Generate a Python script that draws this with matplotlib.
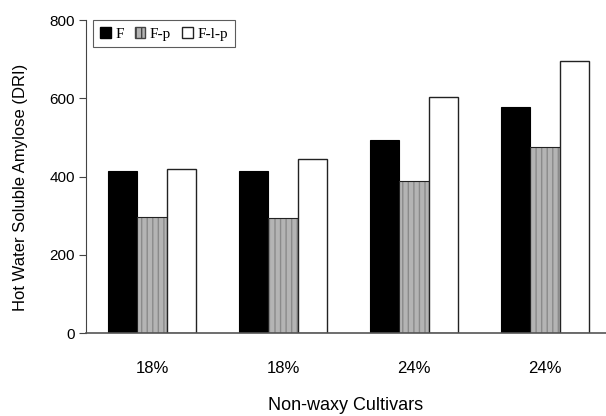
import numpy as np
import matplotlib
matplotlib.use("Agg")
import matplotlib.pyplot as plt
from matplotlib.patches import Patch

# data
categories = ["18%", "18%", "24%", "24%"]
series_names = ["F", "F-p", "F-l-p"]
f_vals = [415, 415, 494, 577]
fp_vals = [297, 295, 389, 476]
flp_vals = [420, 444, 604, 695]

plt.rcParams["font.family"] = ["Liberation Sans", "DejaVu Sans"]

fig = plt.figure(figsize=(6.06, 4.16), dpi=100)
ax = fig.add_axes([0.1419, 0.1995, 0.858, 0.7524])

x = np.arange(len(categories))
w = 0.225

ax.bar(x - w, f_vals, w, color="black", edgecolor="black", linewidth=0.8)
# hatched grey bars: fill + hatch first, then outline on top
ax.bar(x, fp_vals, w, color="#b4b4b4", edgecolor="#8a8a8a", hatch="|||", linewidth=0)
ax.bar(x, fp_vals, w, fill=False, edgecolor="#222222", linewidth=0.8)
ax.bar(x + w, flp_vals, w, color="white", edgecolor="#222222", linewidth=1.0)

ax.set_xlim(-0.504, 3.466)
ax.set_ylim(0, 800)
ax.set_yticks([0, 200, 400, 600, 800])
ax.set_xticks(x)
ax.set_xticklabels(categories)
ax.tick_params(axis="x", length=0, pad=20, labelsize=12)
ax.tick_params(axis="y", length=5, width=0.8, color="#444444", labelsize=11, pad=3)

for s in ["top", "right"]:
    ax.spines[s].set_visible(False)
ax.spines["left"].set_color("#444444")
ax.spines["bottom"].set_color("#555555")
ax.spines["bottom"].set_linewidth(1.2)

ax.set_ylabel("Hot Water Soluble Amylose (DRI)", fontsize=12)
ax.yaxis.set_label_coords(-0.111, 0.465)
ax.set_xlabel("Non-waxy Cultivars", fontsize=13, labelpad=15)

# legend with small square handles
handles = [
    Patch(facecolor="black", edgecolor="black"),
    Patch(facecolor="#b4b4b4", edgecolor="#444444", hatch="|||"),
    Patch(facecolor="white", edgecolor="#222222"),
]
leg = ax.legend(handles, series_names, loc="upper left", ncol=3,
                bbox_to_anchor=(0.014, 1.0), frameon=True, fancybox=False,
                prop={"family": "Liberation Serif", "size": 11},
                handlelength=0.7, handleheight=0.7, handletextpad=0.3,
                columnspacing=0.7, borderpad=0.45, borderaxespad=0.0)
leg.get_frame().set_edgecolor("#333333")
leg.get_frame().set_linewidth(0.8)

fig.savefig("out.png", dpi=100)
